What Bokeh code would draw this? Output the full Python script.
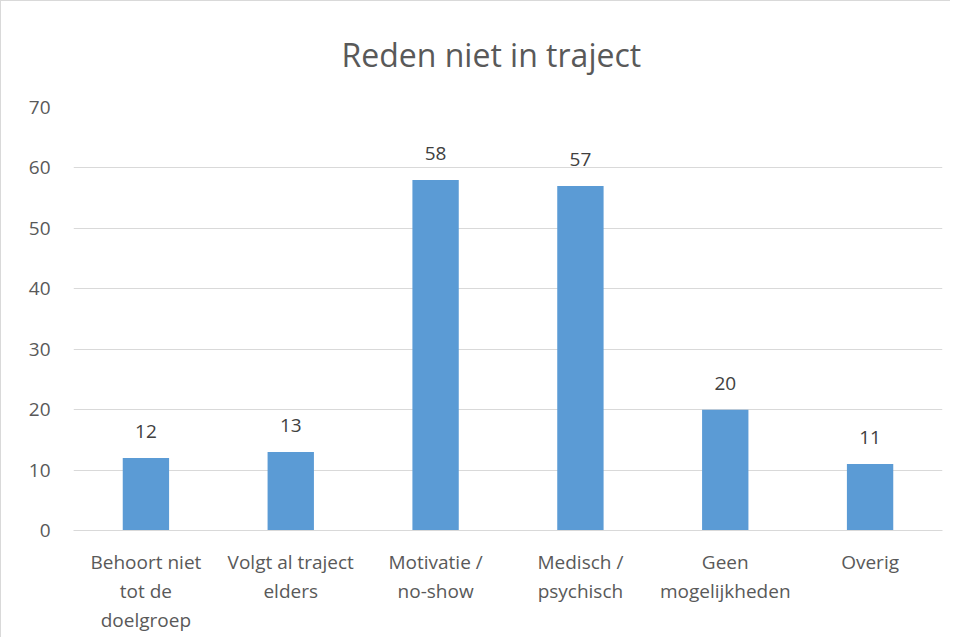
from bokeh.plotting import figure
from bokeh.models import ColumnDataSource, LabelSet, FixedTicker
from bokeh.core.properties import value
from bokeh.embed import file_html
from bokeh.resources import INLINE

categories = ["Behoort niet\ntot de\ndoelgroep", "Volgt al traject\nelders", "Motivatie /\nno-show",
              "Medisch /\npsychisch", "Geen\nmogelijkheden", "Overig"]
values = [12, 13, 58, 57, 20, 11]
y_ticks = [0, 10, 20, 30, 40, 50, 60, 70]
title_text = "Reden niet in traject"

FONT = "Open Sans"
src = ColumnDataSource(dict(cat=categories, val=values, lbl=[str(v) for v in values]))

p = figure(x_range=categories, y_range=(0, 70), width=950, height=637,
           output_backend="svg", toolbar_location=None, title=title_text,
           min_border_left=72, min_border_right=9, min_border_top=106, min_border_bottom=108)
p.styles = {"border-left": "1px solid #d9d9d9", "border-top": "1px solid #d9d9d9"}
p.title.align = "left"
p.title.vertical_align = "top"
p.title.offset = 268
p.title.text_font = FONT
p.title.text_font_size = "32px"
p.title.text_font_style = "normal"
p.title.text_color = "#595959"
p.title.standoff = 60

p.vbar(x="cat", top="val", width=0.32, source=src, fill_color="#5B9BD5", line_color=None)
p.add_layout(LabelSet(x="cat", y="val", text="lbl", source=src, text_align="center",
                      text_baseline="alphabetic", y_offset=20, text_font=value(FONT),
                      text_font_size="19px", text_color="#404040"))

p.outline_line_color = None
p.xgrid.grid_line_color = None
p.ygrid.grid_line_color = "#d9d9d9"
p.ygrid.grid_line_width = 1
p.yaxis.ticker = FixedTicker(ticks=y_ticks)
for ax in (p.xaxis, p.yaxis):
    ax.major_tick_line_color = None
    ax.minor_tick_line_color = None
    ax.major_tick_out = 0
    ax.major_tick_in = 0
    ax.major_label_text_font = FONT
    ax.major_label_text_font_size = "19px"
    ax.major_label_text_color = "#595959"
    ax.major_label_text_line_height = 1.12
p.yaxis.axis_line_color = None
p.xaxis.axis_line_color = "#d9d9d9"
p.yaxis.major_label_standoff = 23
p.xaxis.major_label_standoff = 18

open("out.html", "w").write(file_html(p, INLINE))
